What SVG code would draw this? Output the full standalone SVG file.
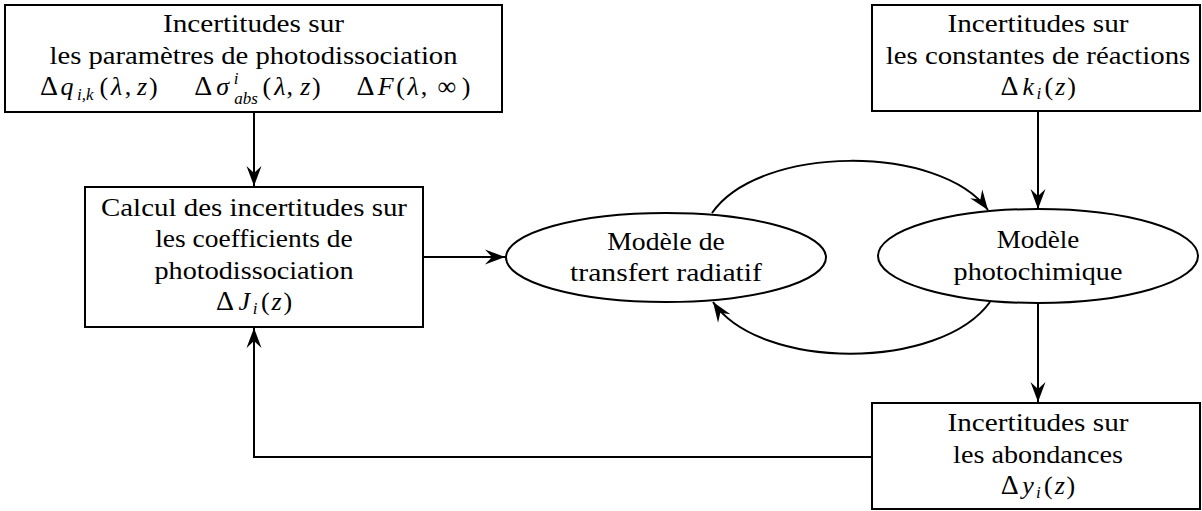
<svg xmlns="http://www.w3.org/2000/svg" width="1202" height="511" viewBox="0 0 1202 511">
<style>
.box{fill:#fff;stroke:#000;stroke-width:2}
.t{font-family:"Liberation Serif","DejaVu Serif",serif;font-size:26px;fill:#000;text-anchor:middle}
.i{font-style:italic}
.d{font-size:28px}
.s{font-size:17px;font-style:italic}
.c{fill:none;stroke:#000;stroke-width:2;marker-end:url(#ah)}
</style>
<defs>
<marker id="ah" markerUnits="userSpaceOnUse" markerWidth="1" markerHeight="1" refX="0" refY="0" orient="auto" overflow="visible">
<path d="M0,0 L-20,-7.5 L-13,0 L-20,7.5 Z" fill="#000" stroke="none"/>
</marker>
</defs>
<rect width="1202" height="511" fill="#fff"/>
<g id="connectors">
<path class="c" d="M254,112 V186"/>
<path class="c" d="M424,257 H505"/>
<path class="c" d="M1038,111 V209"/>
<path class="c" d="M1038,304 V402"/>
<path class="c" d="M872,457 H254 V328"/>
<path class="c" d="M712,213 C760,144 940,144 988,210"/>
<path class="c" d="M990,302 C940,371 760,371 713,302"/>
</g>
<g id="box-params">
<rect class="box" x="5" y="5" width="497" height="107"/>
<text class="t" x="253.5" y="32" textLength="181" lengthAdjust="spacingAndGlyphs">Incertitudes sur</text>
<text class="t" x="253.5" y="63.5" textLength="408" lengthAdjust="spacingAndGlyphs">les paramètres de photodissociation</text>
<text class="t" y="95"><tspan x="49" class="d">Δ</tspan><tspan x="67" class="i">q</tspan><tspan x="85.2" y="100" class="s">i,k</tspan><tspan x="103.9" y="95">(</tspan><tspan x="116.7" class="i">λ</tspan><tspan x="128">,</tspan><tspan x="142" class="i">z</tspan><tspan x="153.3">)</tspan></text>
<text class="t" y="95"><tspan x="203.3" class="d">Δ</tspan><tspan x="222.7" class="i">σ</tspan><tspan x="236" y="83.5" class="s">i</tspan><tspan x="246" y="103.5" class="s">abs</tspan><tspan x="266.9" y="95">(</tspan><tspan x="279.8" class="i">λ</tspan><tspan x="289.8">,</tspan><tspan x="305.3" class="i">z</tspan><tspan x="316.3">)</tspan></text>
<text class="t" y="95"><tspan x="365.5" class="d">Δ</tspan><tspan x="385.8" class="i">F</tspan><tspan x="400.5">(</tspan><tspan x="413.2" class="i">λ</tspan><tspan x="424">,</tspan><tspan x="446.7">∞</tspan><tspan x="466">)</tspan></text>
</g>
<g id="box-constantes">
<rect class="box" x="872" y="5" width="328" height="106"/>
<text class="t" x="1038" y="32" textLength="181" lengthAdjust="spacingAndGlyphs">Incertitudes sur</text>
<text class="t" x="1038" y="63.5" textLength="304.5" lengthAdjust="spacingAndGlyphs">les constantes de réactions</text>
<text class="t" y="95"><tspan x="1009.5" class="d">Δ</tspan><tspan x="1028.2" class="i">k</tspan><tspan x="1038.8" y="99" class="s">i</tspan><tspan x="1048.9" y="95">(</tspan><tspan x="1060.2" class="i">z</tspan><tspan x="1071.5">)</tspan></text>
</g>
<g id="box-calcul">
<rect class="box" x="85" y="187" width="338" height="140"/>
<text class="t" x="254" y="215.5" textLength="306" lengthAdjust="spacingAndGlyphs">Calcul des incertitudes sur</text>
<text class="t" x="254" y="247" textLength="197.5" lengthAdjust="spacingAndGlyphs">les coefficients de</text>
<text class="t" x="254" y="278.5" textLength="199" lengthAdjust="spacingAndGlyphs">photodissociation</text>
<text class="t" y="310"><tspan x="225" class="d">Δ</tspan><tspan x="244.2" class="i">J</tspan><tspan x="255.2" y="314" class="s">i</tspan><tspan x="265.3" y="310">(</tspan><tspan x="276.6" class="i">z</tspan><tspan x="287.8">)</tspan></text>
</g>
<g id="ell-transfert">
<ellipse class="box" cx="666" cy="257.5" rx="160" ry="44.5"/>
<text class="t" x="666" y="249.5" textLength="117.6" lengthAdjust="spacingAndGlyphs">Modèle de</text>
<text class="t" x="666" y="281" textLength="191.8" lengthAdjust="spacingAndGlyphs">transfert radiatif</text>
</g>
<g id="ell-photochimique">
<ellipse class="box" cx="1038" cy="256" rx="160" ry="47"/>
<text class="t" x="1038" y="248" textLength="82.6" lengthAdjust="spacingAndGlyphs">Modèle</text>
<text class="t" x="1038" y="279.5" textLength="168.8" lengthAdjust="spacingAndGlyphs">photochimique</text>
</g>
<g id="box-abondances">
<rect class="box" x="872" y="403" width="328" height="106"/>
<text class="t" x="1038" y="431" textLength="181" lengthAdjust="spacingAndGlyphs">Incertitudes sur</text>
<text class="t" x="1038" y="462.5" textLength="169.8" lengthAdjust="spacingAndGlyphs">les abondances</text>
<text class="t" y="494"><tspan x="1009.8" class="d">Δ</tspan><tspan x="1028.1" class="i">y</tspan><tspan x="1038.3" y="498" class="s">i</tspan><tspan x="1048.4" y="494">(</tspan><tspan x="1059.7" class="i">z</tspan><tspan x="1070.9">)</tspan></text>
</g>
</svg>
